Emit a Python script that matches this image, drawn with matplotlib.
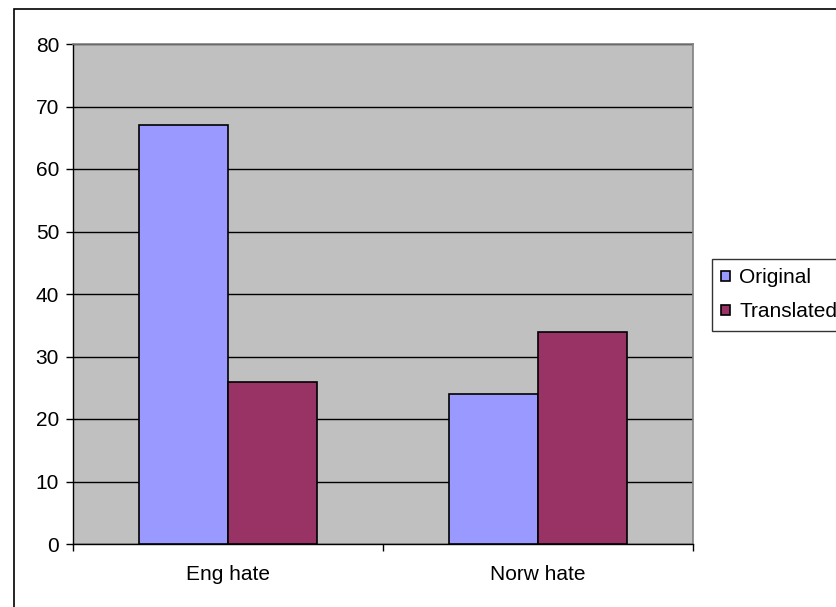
import matplotlib
matplotlib.use("Agg")
import matplotlib.pyplot as plt
import numpy as np
from matplotlib.patches import Rectangle

categories = ["Eng hate", "Norw hate"]
series_names = ["Original", "Translated"]
original = [67, 24]
translated = [26, 34]
y_ticks = [0, 10, 20, 30, 40, 50, 60, 70, 80]

colors = ["#9999FF", "#993366"]

plt.rcParams["font.family"] = ["Liberation Sans", "DejaVu Sans"]
FS = 15

W, H = 836, 607
fig = plt.figure(figsize=(W / 100, H / 100), dpi=100)

# outer chart frame (only top and left edges fall inside the canvas)
fig.add_artist(Rectangle((14 / W, -0.1), 1.2, (H - 9) / H + 0.1,
                         transform=fig.transFigure, fill=False,
                         edgecolor="black", linewidth=1.2))

ax = fig.add_axes([73 / W, (H - 544) / H, 620 / W, 500 / H])
ax.set_facecolor("#C0C0C0")

x = np.arange(len(categories))
bw = 1 / 3.5
b1 = ax.bar(x - bw / 2, original, bw, color=colors[0], edgecolor="black",
            linewidth=1.2, label=series_names[0], zorder=3)
b2 = ax.bar(x + bw / 2, translated, bw, color=colors[1], edgecolor="black",
            linewidth=1.2, label=series_names[1], zorder=3)

ax.set_xlim(-0.5, len(categories) - 0.5)
ax.set_ylim(0, 80)
ax.set_yticks(y_ticks)
ax.set_yticklabels([str(v) for v in y_ticks], fontsize=FS)
ax.yaxis.grid(True, color="black", linewidth=1.0, zorder=1)
ax.set_axisbelow(True)

ax.set_xticks(x)
ax.set_xticklabels(categories, fontsize=FS)
ax.tick_params(axis="x", length=0, pad=15)
ax.set_xticks(np.arange(-0.5, len(categories), 1.0), minor=True)
ax.tick_params(axis="x", which="minor", length=5, width=1, direction="out")
ax.tick_params(axis="y", length=5, width=1, direction="out", pad=5)

for side in ["top", "right"]:
    ax.spines[side].set_color("#808080")
    ax.spines[side].set_linewidth(1.2)
for side in ["left", "bottom"]:
    ax.spines[side].set_color("black")
    ax.spines[side].set_linewidth(1.0)

leg = fig.legend(handles=[b1, b2], labels=series_names,
                 loc="upper left", bbox_to_anchor=(712 / W, 1 - 259 / H),
                 fontsize=FS, frameon=True, fancybox=False,
                 edgecolor="black", handlelength=0.42, handleheight=0.42,
                 handletextpad=0.43, borderpad=0.45, labelspacing=0.72,
                 borderaxespad=0)
leg.get_frame().set_linewidth(1.0)

fig.savefig("out.png", dpi=100)
